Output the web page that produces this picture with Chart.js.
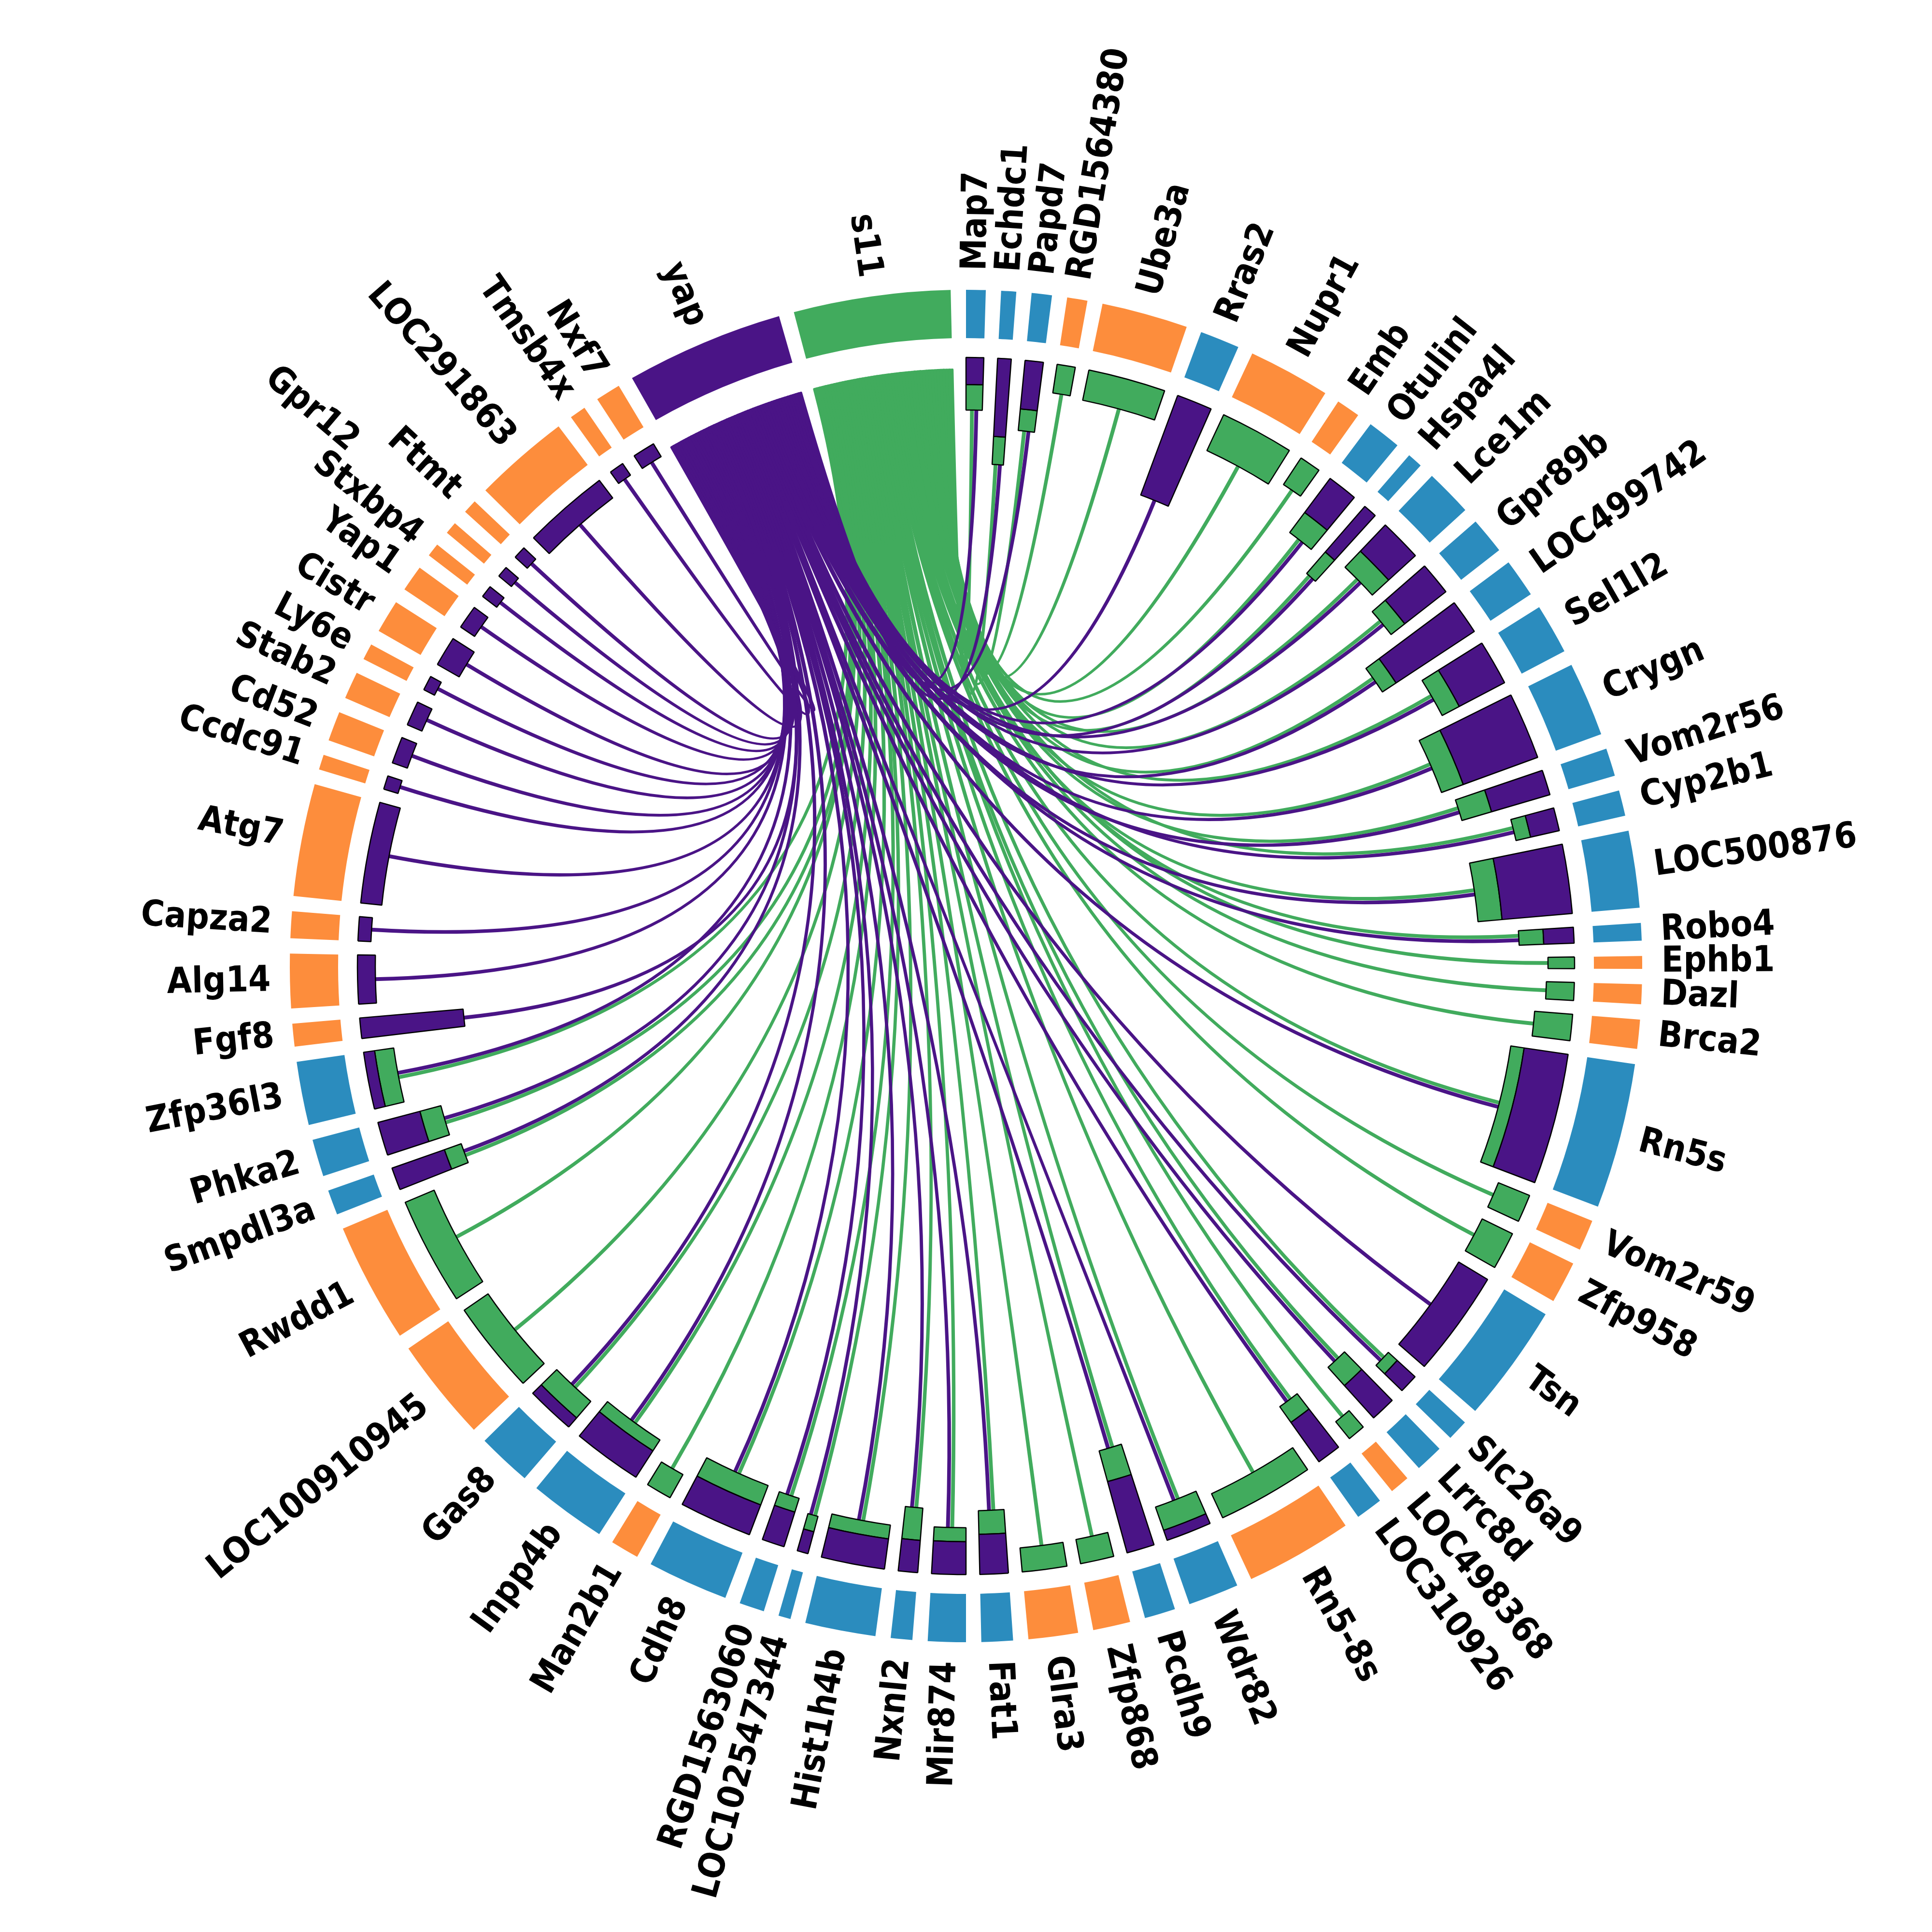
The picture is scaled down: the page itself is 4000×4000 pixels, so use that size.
<!DOCTYPE html>
<html>
<head>
<meta charset="utf-8">
<script src="https://cdn.jsdelivr.net/npm/chart.js@4.4.1/dist/chart.umd.min.js"></script>
<style>
  html, body { margin: 0; padding: 0; background: #fff; }
  #wrap { width: 4000px; height: 4000px; }
</style>
</head>
<body>
<div id="wrap"><canvas id="chord" width="4000" height="4000"></canvas></div>
<script>
// genes clockwise from the top, the two hubs last
const genes = ['Map7', 'Echdc1', 'Papd7', 'RGD1564380', 'Ube3a', 'Rras2', 'Nupr1', 'Emb', 'Otulinl', 'Hspa4l',
  'Lce1m', 'Gpr89b', 'LOC499742', 'Sel1l2', 'Crygn', 'Vom2r56', 'Cyp2b1', 'LOC500876', 'Robo4', 'Ephb1',
  'Dazl', 'Brca2', 'Rn5s', 'Vom2r59', 'Zfp958', 'Tsn', 'Slc26a9', 'Lrrc8d', 'LOC498368', 'LOC310926',
  'Rn5-8s', 'Wdr82', 'Pcdh9', 'Zfp868', 'Glra3', 'Fat1', 'Mir874', 'Nxnl2', 'Hist1h4b', 'LOC102547344',
  'RGD1563060', 'Cdh8', 'Man2b1', 'Inpp4b', 'Gas8', 'LOC100910945', 'Rwdd1', 'Smpdl3a', 'Phka2', 'Zfp36l3',
  'Fgf8', 'Alg14', 'Capza2', 'Atg7', 'Ccdc91', 'Cd52', 'Stab2', 'Ly6e', 'Cistr', 'Yap1',
  'Stxbp4', 'Gpr12', 'Ftmt', 'LOC291863', 'Tmsb4x', 'Nxf7', 'yap', 's11'];

// share of the circle for each segment
const arcSize = [2.98, 2.59, 3.04, 3.04, 8.7, 4.7, 8.35, 3.35, 4.2, 2.6,
  5.35, 4.45, 4.6, 5.6, 7.7, 3.7, 3.5, 7.9, 2.8, 2.4,
  3.0, 3.8, 13.8, 3.95, 4.9, 11.45, 3.1, 3.7, 3.0, 3.6,
  10.5, 5.65, 3.95, 4.5, 5.55, 4.0, 4.55, 3.15, 7.35, 2.35,
  3.45, 8.25, 3.75, 7.9, 5.95, 10.15, 11.6, 3.45, 4.5, 6.75,
  3.25, 5.95, 3.6, 10.95, 2.6, 3.85, 3.65, 2.7, 4.15, 3.55,
  2.45, 2.35, 2.5, 9.55, 2.7, 3.45, 14.85, 14.75];

// gene group on the outer ring: 2 = found with both hubs, 1 = with one
const group = [2, 2, 2, 1, 1, 2, 1, 1, 2, 2,
  2, 2, 2, 2, 2, 2, 2, 2, 2, 1,
  1, 1, 2, 1, 1, 2, 2, 2, 1, 2,
  1, 2, 2, 1, 1, 2, 2, 2, 2, 2,
  2, 2, 1, 2, 2, 1, 1, 2, 2, 2,
  1, 1, 1, 1, 1, 1, 1, 1, 1, 1,
  1, 1, 1, 1, 1, 1, 0, 0];

// link strength to yap (purple) and to s11 (green)
const yapScore = [5.6, 16.2, 10.1, 0, 0, 22.0, 0, 0, 8.8, 12.5,
  7.5, 10.8, 19.4, 10.6, 16.4, 12.6, 6.1, 14.6, 6.3, 0,
  0, 0, 9.2, 0, 0, 7.0, 5.0, 9.0, 0, 10.0,
  0, 2.2, 15.3, 0, 0, 8.3, 6.8, 6.7, 6.3, 4.7,
  7.5, 6.6, 0, 6.5, 2.5, 0, 0, 11.5, 9.0, 2.3,
  21.5, 3.7, 2.7, 4.4, 3.1, 3.3, 3.3, 2.5, 5.2, 3.5,
  3.7, 3.4, 3.4, 4.6, 2.9, 3.1, 0, 0];
const s11Score = [5.3, 5.8, 4.5, 6.0, 6.4, 0, 8.2, 6.6, 5.2, 5.9,
  4.6, 3.6, 3.4, 4.0, 4.8, 6.4, 3.1, 5.0, 5.1, 5.5,
  5.8, 7.9, 2.8, 7.0, 7.0, 0, 2.5, 5.1, 4.5, 4.0,
  5.5, 5.1, 6.6, 5.1, 5.0, 4.9, 2.9, 6.7, 2.9, 3.3,
  3.0, 4.3, 5.5, 2.7, 4.5, 6.0, 6.5, 3.7, 4.5, 4.0,
  0, 0, 0, 0, 0, 0, 0, 0, 0, 0,
  0, 0, 0, 0, 0, 0, 0, 0];

const GREEN = '#41ab5d', PURPLE = '#4a1486', BLUE = '#2b8cbe', ORANGE = '#fd8d3c';
const R_OUT = 1400, R_IN = 1300, R_BAR = 1260, R_HUB = 1235, R_LABEL = 1440;
const BAR_PX = 10;
const GAP = 1.3 * Math.PI / 180;
const CHORD_PX = 3.5, CHORD_LINE = 4.5;
const TEXT_SQUEEZE = 0.9;
const labelNudge = { Gpr12: 225 };

function ringColor(i) {
    if (genes[i] === 'yap') return PURPLE;
    if (genes[i] === 's11') return GREEN;
    return group[i] === 2 ? BLUE : ORANGE;
}

// ring radii and gaps (outer ring, purple bars, green bars)
const shapeRings = {
    id: 'shapeRings',
    afterDatasetUpdate(chart, args) {
        const d = args.index;
        args.meta.data.forEach((el, i) => {
            const yv = yapScore[i] * BAR_PX, sv = s11Score[i] * BAR_PX;
            let outer, inner;
            if (d === 0) { outer = R_OUT; inner = R_IN; }
            else if (d === 1) { outer = R_BAR; inner = R_BAR - yv; }
            else { outer = R_BAR - yv; inner = outer - sv; }
            el.outerRadius = outer;
            el.innerRadius = inner;
            el.startAngle += GAP / 2;
            el.endAngle -= GAP / 2;
            el.circumference = el.endAngle - el.startAngle;
        });
    }
};

function ribbon(ctx, cx, cy, rh, a0, a1, rg, b0, b1) {
    ctx.beginPath();
    ctx.arc(cx, cy, rh, a0, a1);
    ctx.quadraticCurveTo(cx, cy, cx + rg * Math.cos(b0), cy + rg * Math.sin(b0));
    ctx.arc(cx, cy, rg, b0, b1);
    ctx.quadraticCurveTo(cx, cy, cx + rh * Math.cos(a0), cy + rh * Math.sin(a0));
    ctx.closePath();
    ctx.fill();
    ctx.stroke();
}

const chords = {
    id: 'chords',
    beforeDatasetsDraw(chart) {
        const ctx = chart.ctx;
        const ring = chart.getDatasetMeta(0).data;
        const cx = ring[0].x, cy = ring[0].y;
        ctx.save();
        ctx.lineWidth = CHORD_LINE;
        ctx.lineJoin = 'round';
        [['s11', s11Score, GREEN, -1], ['yap', yapScore, PURPLE, 1]].forEach(([hub, score, color, side]) => {
            const h = ring[genes.indexOf(hub)];
            const linked = genes.map((g, i) => i).filter(i => score[i] > 0);
            const w = (h.endAngle - h.startAngle) / linked.length;
            ctx.fillStyle = color;
            ctx.strokeStyle = color;
            linked.forEach((i, k) => {
                const a1 = h.endAngle - k * w, a0 = a1 - w;
                const el = ring[i];
                const rg = R_BAR - (yapScore[i] + s11Score[i]) * BAR_PX;
                const both = yapScore[i] > 0 && s11Score[i] > 0;
                const mid = (el.startAngle + el.endAngle) / 2 + (both ? side * 4.5 / rg : 0);
                const half = CHORD_PX / 2 / rg;
                ribbon(ctx, cx, cy, R_HUB, a0, a1, rg, mid - half, mid + half);
            });
        });
        ctx.restore();
    }
};

const labels = {
    id: 'labels',
    afterDatasetsDraw(chart) {
        const ctx = chart.ctx;
        const ring = chart.getDatasetMeta(0).data;
        ctx.save();
        ctx.font = 'bold 74px "DejaVu Sans"';
        ctx.fillStyle = '#000';
        ctx.textBaseline = 'middle';
        ring.forEach((el, i) => {
            const a = (el.startAngle + el.endAngle) / 2;
            const r = R_LABEL + (labelNudge[genes[i]] || 0);
            let deg = (a * 180 / Math.PI + 90) % 360;
            if (deg < 0) deg += 360;
            ctx.save();
            ctx.translate(el.x, el.y);
            ctx.rotate(a);
            if (deg < 180) {
                ctx.translate(r, 0);
                ctx.scale(TEXT_SQUEEZE, 1);
                ctx.textAlign = 'left';
            } else {
                ctx.translate(r, 0);
                ctx.rotate(Math.PI);
                ctx.scale(TEXT_SQUEEZE, 1);
                ctx.textAlign = 'right';
            }
            ctx.fillText(genes[i], 0, 0);
            ctx.restore();
        });
        ctx.restore();
    }
};

const barBorder = (score) => (c) => score[c.dataIndex] > 0 ? 2.5 : 0;

new Chart(document.getElementById('chord'), {
    type: 'doughnut',
    data: {
        labels: genes,
        datasets: [
            { label: 'genes', data: arcSize, backgroundColor: genes.map((g, i) => ringColor(i)), borderWidth: 0 },
            { label: 'yap', data: arcSize, backgroundColor: PURPLE, borderColor: '#000', borderWidth: barBorder(yapScore) },
            { label: 's11', data: arcSize, backgroundColor: GREEN, borderColor: '#000', borderWidth: barBorder(s11Score) }
        ]
    },
    options: {
        responsive: false,
        devicePixelRatio: 1,
        animation: false,
        events: [],
        rotation: -0.65,
        circumference: 360,
        layout: { padding: 0 },
        plugins: { legend: { display: false }, tooltip: { enabled: false } }
    },
    plugins: [shapeRings, chords, labels]
});
</script>
</body>
</html>
